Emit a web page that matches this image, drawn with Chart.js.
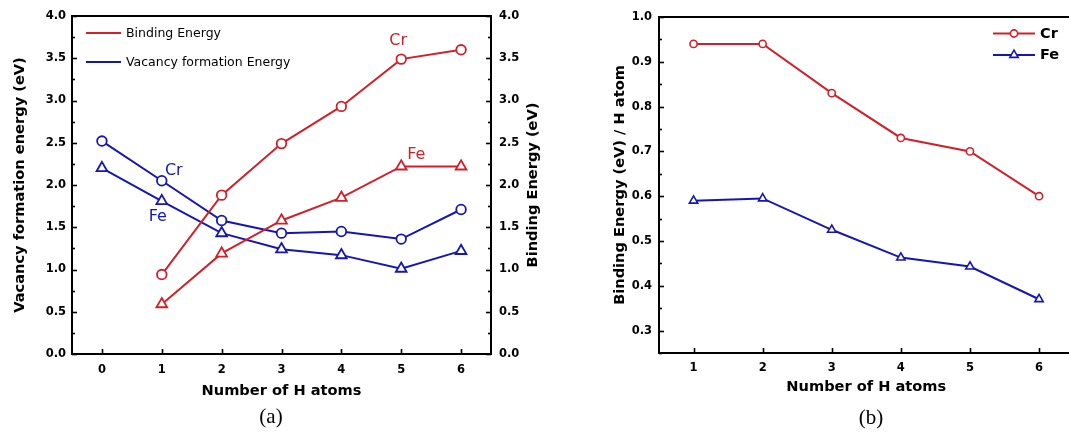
<!DOCTYPE html>
<html><head><meta charset="utf-8">
<script src="https://cdn.jsdelivr.net/npm/chart.js@4"></script>
<style>
html,body{margin:0;padding:0;background:#fff;overflow:hidden;width:1069px;height:433px;position:relative;}
canvas{position:absolute;top:0;}
#ca{left:0;}
#cb{left:580px;}
.cap{position:absolute;font-family:'Liberation Serif','Times New Roman',serif;font-size:21px;color:#000;transform:translate(-50%,-50%);white-space:nowrap;}
</style></head><body>
<canvas id="ca" width="560" height="433"></canvas>
<canvas id="cb" width="500" height="433"></canvas>
<div class="cap" style="left:271px;top:416px">(a)</div>
<div class="cap" style="left:871px;top:417px">(b)</div>
<script>
// ---------- data ----------
const hAtoms = [0, 1, 2, 3, 4, 5, 6];
const vacancyCr = [2.52, 2.05, 1.58, 1.43, 1.45, 1.36, 1.71];
const vacancyFe = [2.20, 1.81, 1.43, 1.24, 1.17, 1.01, 1.22];
const bindingCr = [null, 0.94, 1.88, 2.49, 2.93, 3.49, 3.60];
const bindingFe = [null, 0.59, 1.19, 1.58, 1.85, 2.22, 2.22];

const hAtomsB = [1, 2, 3, 4, 5, 6];
const bindingPerHCr = [0.94, 0.94, 0.83, 0.73, 0.70, 0.60];
const bindingPerHFe = [0.59, 0.595, 0.525, 0.463, 0.443, 0.37];

const yTicksA = [0.0, 0.5, 1.0, 1.5, 2.0, 2.5, 3.0, 3.5, 4.0];
const yTicksB = [0.3, 0.4, 0.5, 0.6, 0.7, 0.8, 0.9, 1.0];

const RED = '#d2202a';
const BLUE = '#1616b4';
const FAM = "'DejaVu Sans', sans-serif";

Chart.defaults.font.family = FAM;
Chart.defaults.color = '#000';

function pts(xs, ys) { return xs.map((x, i) => ({x: x, y: ys[i]})); }
function setTicks(vals) { return s => { s.ticks = vals.map(v => ({value: v})); }; }

function drawMarker(ctx, style, x, y, r) {
  ctx.beginPath();
  if (style === 'circle') {
    ctx.arc(x, y, r, 0, Math.PI * 2);
  } else {
    let rad = 0;
    ctx.moveTo(x + Math.sin(rad) * r, y - Math.cos(rad) * r);
    rad += 2 * Math.PI / 3;
    ctx.lineTo(x + Math.sin(rad) * r, y - Math.cos(rad) * r);
    rad += 2 * Math.PI / 3;
    ctx.lineTo(x + Math.sin(rad) * r, y - Math.cos(rad) * r);
    ctx.closePath();
  }
  ctx.fill();
  ctx.stroke();
}

// box + inward ticks
const axisPlugin = {
  id: 'axisBox',
  afterDraw(chart, args, opts) {
    const {ctx, chartArea: {left, right, top, bottom}} = chart;
    ctx.save();
    ctx.strokeStyle = '#000';
    ctx.lineWidth = 2;
    ctx.strokeRect(left, top, right - left, bottom - top);
    ctx.lineWidth = 1.6;
    Object.values(chart.scales).forEach(s => {
      const vals = s.ticks.map(t => t.value);
      const minorVals = [];
      if (!s.isHorizontal() && vals.length > 1) {
        const step = vals[1] - vals[0];
        for (let v = vals[0] - step / 2; v <= s.max + 1e-9; v += step) {
          if (v >= s.min - 1e-9) minorVals.push(v);
        }
      }
      const draw = (v, len) => {
        const p = Math.round(s.getPixelForValue(v)) + 0.5;
        ctx.beginPath();
        if (s.isHorizontal()) {
          ctx.moveTo(p, bottom); ctx.lineTo(p, bottom - len);
        } else if (s.position === 'left') {
          ctx.moveTo(left, p); ctx.lineTo(left + len, p);
        } else {
          ctx.moveTo(right, p); ctx.lineTo(right - len, p);
        }
        ctx.stroke();
      };
      vals.forEach(v => draw(v, 5));
      minorVals.forEach(v => draw(v, 3));
    });
    ctx.restore();
  }
};

// text labels / legend plugin
const extrasPlugin = {
  id: 'extras',
  afterDraw(chart, args, opts) {
    const ctx = chart.ctx;
    ctx.save();
    (opts.labels || []).forEach(l => {
      const el = chart.getDatasetMeta(l.ds).data[l.idx];
      ctx.font = l.font;
      ctx.fillStyle = l.color;
      ctx.textAlign = 'center';
      ctx.textBaseline = 'middle';
      ctx.fillText(l.text, el.x + l.dx, el.y + l.dy);
    });
    (opts.rotTitles || []).forEach(t => {
      ctx.save();
      ctx.translate(t.x, t.y);
      ctx.rotate(-Math.PI / 2);
      ctx.font = t.font;
      ctx.fillStyle = '#000';
      ctx.textAlign = 'center';
      ctx.textBaseline = 'middle';
      ctx.fillText(t.text, 0, 0);
      ctx.restore();
    });
    (opts.legend || []).forEach(it => {
      const ds = chart.data.datasets[it.ds];
      ctx.strokeStyle = ds.borderColor;
      ctx.lineWidth = ds.borderWidth;
      ctx.beginPath();
      ctx.moveTo(it.x1, it.y); ctx.lineTo(it.x2, it.y);
      ctx.stroke();
      if (it.marker) {
        ctx.fillStyle = '#fff';
        ctx.lineWidth = ds.pointBorderWidth;
        drawMarker(ctx, ds.pointStyle, (it.x1 + it.x2) / 2, it.y, it.r);
      }
      ctx.font = it.font;
      ctx.fillStyle = '#000';
      ctx.textAlign = 'left';
      ctx.textBaseline = 'middle';
      ctx.fillText(ds.label, it.tx, it.y + 0.5);
    });
    ctx.restore();
  }
};

const tickFont = {family: FAM, size: 11.5, weight: 'bold'};
const titleFont = {family: FAM, size: 14.6, weight: 'bold'};

function line(label, data, color, style, r, axis) {
  return {
    label: label, data: data, borderColor: color, backgroundColor: color,
    borderWidth: 2, pointStyle: style, pointRadius: r, pointHoverRadius: r,
    pointBorderWidth: 1.8, pointBackgroundColor: '#fff', pointBorderColor: color,
    yAxisID: axis, spanGaps: false, tension: 0
  };
}

// ---------- chart (a) ----------
new Chart(document.getElementById('ca'), {
  type: 'line',
  data: {
    datasets: [
      line('Binding Energy', pts(hAtoms, bindingCr), RED, 'circle', 4.8, 'y2'),
      line('Binding Energy Fe', pts(hAtoms, bindingFe), RED, 'triangle', 6.2, 'y2'),
      line('Vacancy formation Energy', pts(hAtoms, vacancyCr), BLUE, 'circle', 4.8, 'y'),
      line('Vacancy formation Energy Fe', pts(hAtoms, vacancyFe), BLUE, 'triangle', 6.2, 'y')
    ]
  },
  options: {
    responsive: false, animation: false, devicePixelRatio: 1,
    layout: {padding: {top: 16, left: 0, right: 0, bottom: 0}},
    plugins: {
      legend: {display: false}, tooltip: {enabled: false},
      extras: {
        labels: [
          {text: 'Cr', ds: 0, idx: 5, dx: -3, dy: -18, color: RED, font: "16px " + FAM},
          {text: 'Fe', ds: 1, idx: 5, dx: 15, dy: -12, color: RED, font: "16px " + FAM},
          {text: 'Cr', ds: 2, idx: 1, dx: 12, dy: -10, color: BLUE, font: "16px " + FAM},
          {text: 'Fe', ds: 3, idx: 1, dx: -4, dy: 16, color: BLUE, font: "16px " + FAM}
        ],
        rotTitles: [{text: 'Binding Energy (eV)', x: 533, y: 185, font: "bold 14.6px " + FAM}],
        legend: [
          {ds: 0, x1: 86, x2: 121, y: 33, tx: 126, font: "12.5px " + FAM, marker: false},
          {ds: 2, x1: 86, x2: 121, y: 62, tx: 126, font: "12.5px " + FAM, marker: false}
        ]
      }
    },
    scales: {
      x: {
        type: 'linear', min: -0.5, max: 6.5,
        afterBuildTicks: setTicks(hAtoms),
        afterFit: s => { s.height = 79; },
        grid: {display: false, drawTicks: false}, border: {display: false},
        ticks: {font: tickFont, color: '#000', padding: 9, callback: v => String(v)},
        title: {display: true, text: 'Number of H atoms', font: titleFont, color: '#000', padding: {top: 0, bottom: 33.2}}
      },
      y: {
        type: 'linear', position: 'left', min: 0, max: 4,
        afterBuildTicks: setTicks(yTicksA),
        afterFit: s => { s.width = 72; },
        grid: {display: false, drawTicks: false}, border: {display: false},
        ticks: {font: tickFont, color: '#000', padding: 6, callback: v => v.toFixed(1)},
        title: {display: true, text: 'Vacancy formation energy (eV)', font: titleFont, color: '#000', padding: {top: 11.2, bottom: 0}}
      },
      y2: {
        type: 'linear', position: 'right', min: 0, max: 4,
        afterBuildTicks: setTicks(yTicksA),
        afterFit: s => { s.width = 69; },
        grid: {display: false, drawTicks: false}, border: {display: false},
        ticks: {font: tickFont, color: '#000', padding: 8, callback: v => v.toFixed(1)}
      }
    }
  },
  plugins: [axisPlugin, extrasPlugin]
});

// ---------- chart (b) ----------
new Chart(document.getElementById('cb'), {
  type: 'line',
  data: {
    datasets: [
      Object.assign(line('Cr', pts(hAtomsB, bindingPerHCr), RED, 'circle', 3.6, 'y'), {pointBorderWidth: 1.6}),
      Object.assign(line('Fe', pts(hAtomsB, bindingPerHFe), BLUE, 'triangle', 4.8, 'y'), {pointBorderWidth: 1.6})
    ]
  },
  options: {
    responsive: false, animation: false, devicePixelRatio: 1,
    layout: {padding: {top: 17, left: 0, right: 4, bottom: 0}},
    plugins: {
      legend: {display: false}, tooltip: {enabled: false},
      extras: {
        legend: [
          {ds: 0, x1: 413, x2: 455, y: 33.5, tx: 460, font: "bold 14.5px " + FAM, marker: true, r: 3.6},
          {ds: 1, x1: 413, x2: 455, y: 55, tx: 460, font: "bold 14.5px " + FAM, marker: true, r: 4.8}
        ]
      }
    },
    scales: {
      x: {
        type: 'linear', min: 0.5, max: 6.5,
        afterBuildTicks: setTicks(hAtomsB),
        afterFit: s => { s.height = 80; },
        grid: {display: false, drawTicks: false}, border: {display: false},
        ticks: {font: tickFont, color: '#000', padding: 8, callback: v => String(v)},
        title: {display: true, text: 'Number of H atoms', font: titleFont, color: '#000', padding: {top: 0, bottom: 37.5}}
      },
      y: {
        type: 'linear', position: 'left', min: 0.25, max: 1.0,
        afterBuildTicks: setTicks(yTicksB),
        afterFit: s => { s.width = 79; },
        grid: {display: false, drawTicks: false}, border: {display: false},
        ticks: {font: tickFont, color: '#000', padding: 7, callback: v => v.toFixed(1)},
        title: {display: true, text: 'Binding Energy (eV) / H atom', font: titleFont, color: '#000', padding: {top: 31.2, bottom: 0}}
      }
    }
  },
  plugins: [axisPlugin, extrasPlugin]
});
</script>
</body></html>
